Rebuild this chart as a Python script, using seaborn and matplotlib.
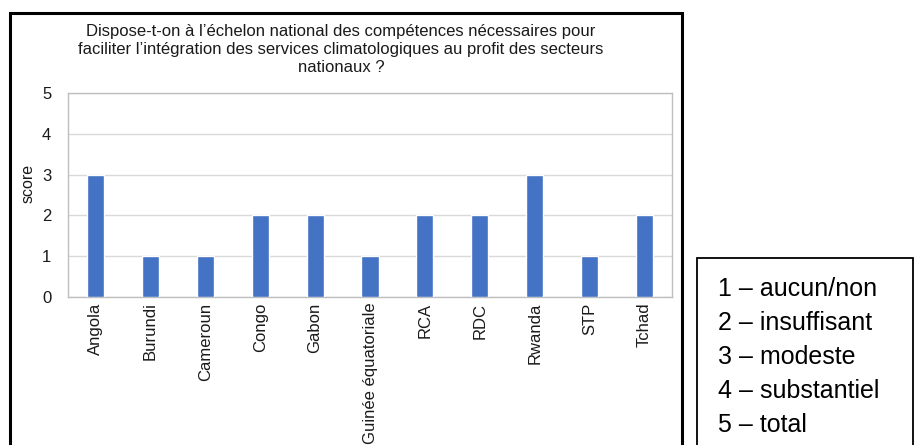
import matplotlib
matplotlib.use("Agg")
import matplotlib.pyplot as plt
from matplotlib.patches import Rectangle
import seaborn as sns
import pandas as pd

pays = ["Angola", "Burundi", "Cameroun", "Congo", "Gabon", "Guinée équatoriale",
        "RCA", "RDC", "Rwanda", "STP", "Tchad"]
scores = [3, 1, 1, 2, 2, 1, 2, 2, 3, 1, 2]
yticks = [0, 1, 2, 3, 4, 5]
titre = ("Dispose-t-on à l’échelon national des compétences nécessaires pour\n"
         "faciliter l’intégration des services climatologiques au profit des secteurs\n"
         "nationaux ?")
legende = ["1 – aucun/non", "2 – insuffisant", "3 – modeste", "4 – substantiel", "5 – total"]

sns.set_theme(style="white")
plt.rcParams["font.family"] = ["Liberation Sans", "DejaVu Sans"]

W, H = 915, 445
fig = plt.figure(figsize=(W / 100, H / 100), dpi=100)

def fx(px):
    return px / W

def fy(py):
    return 1 - py / H

# outer chart frame
fig.patches.append(Rectangle((fx(10), fy(460)), fx(682) - fx(10), fy(13) - fy(460),
                             transform=fig.transFigure, fill=False, edgecolor="black",
                             linewidth=2.2, clip_on=False))
# scale legend frame
fig.patches.append(Rectangle((fx(697), fy(460)), fx(913) - fx(697), fy(258) - fy(460),
                             transform=fig.transFigure, fill=False, edgecolor="black",
                             linewidth=1.3, clip_on=False))

ax = fig.add_axes([fx(68), fy(297), fx(672) - fx(68), fy(93) - fy(297)])
df = pd.DataFrame({"pays": pays, "score": scores})
sns.barplot(data=df, x="pays", y="score", color="#4472C4", width=0.31,
            saturation=1, ax=ax, zorder=3)

ax.set_ylim(0, 5)
ax.set_yticks(yticks)
ax.yaxis.grid(True, color="#D9D9D9", linewidth=1)
ax.set_axisbelow(True)
for s in ax.spines.values():
    s.set_color("#BFBFBF")
    s.set_linewidth(1)
ax.tick_params(axis="both", length=0, labelsize=12, colors="#1a1a1a")
ax.tick_params(axis="x", pad=4)
ax.tick_params(axis="y", pad=12)
ax.set_xticks(range(len(pays)))
ax.set_xticklabels(pays, rotation=90, va="top", ha="center")
ax.set_xlabel("")
ax.set_ylabel("score", fontsize=11.5, color="#1a1a1a")
ax.yaxis.set_label_coords((28 - 68) / (672 - 68), (297 - 183) / (297 - 93))
ax.yaxis.label.set_va("center")

fig.text(fx(341), fy(24), titre, ha="center", va="top", fontsize=12,
         color="#1a1a1a", linespacing=1.25)

for i, t in enumerate(legende):
    fig.text(fx(718), fy(289 + 34 * i), t, ha="left", va="center",
             fontsize=18, color="black")

fig.savefig("out.png", dpi=100)
